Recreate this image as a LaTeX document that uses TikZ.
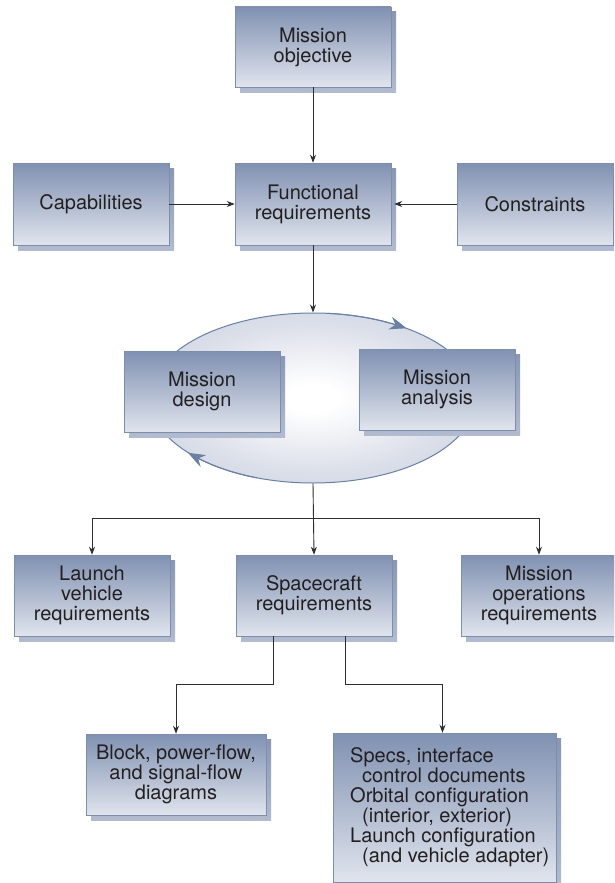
\documentclass[tikz,border=0pt]{standalone}
\usepackage{fontspec}
\setmainfont{TeX Gyre Heros}
\usetikzlibrary{arrows.meta,bending,shadows,shapes.geometric,calc}
\definecolor{boxtop}{RGB}{128,145,178}
\definecolor{boxbot}{RGB}{224,228,237}
\definecolor{boxline}{RGB}{125,141,172}
\definecolor{shadtop}{RGB}{136,151,180}
\definecolor{shadbot}{RGB}{178,187,207}
\definecolor{loopclr}{RGB}{104,128,166}
\definecolor{loopout}{RGB}{190,198,216}
\definecolor{loopmid}{RGB}{219,223,233}
\definecolor{txt}{RGB}{35,31,32}
\definecolor{conn}{RGB}{45,45,45}
\pgfdeclareradialshading{loopshade}{\pgfpoint{0bp}{0bp}}{color(0bp)=(white); color(4bp)=(white); color(22bp)=(loopmid); color(44bp)=(loopout); color(100bp)=(loopout)}
\begin{document}
\begin{tikzpicture}[x=1pt,y=-1pt,
  bluebox/.style={rectangle, minimum width=156pt, minimum height=82pt, inner sep=0pt,
    top color=boxtop, bottom color=boxbot, draw=boxline, line width=0.5pt,
    align=center, text=txt, font=\fontsize{20}{20}\selectfont,
    general shadow={shadow xshift=5pt, shadow yshift=-5pt, top color=shadtop, bottom color=shadbot}},
  arr/.style={draw=conn, line width=0.9pt, -{Stealth[length=8pt,width=6pt]}},
  looparr/.style={draw=loopclr, line width=1pt, -{Stealth[length=17pt,width=13pt,bend]}}
]
\useasboundingbox (0,0) rectangle (614,883);
\clip (0,0) rectangle (614,883);
\fill[white] (0,0) rectangle (614,883);

% top row
\node[bluebox, minimum height=80pt] (obj) at (313,47) {Mission\\objective};
\node[bluebox] (cap) at (91,204) {Capabilities};
\node[bluebox] (func) at (313,204) {Functional\\requirements};
\node[bluebox] (cons) at (535,204) {Constraints};

% loop
\node[ellipse, minimum width=326pt, minimum height=170pt, inner sep=0pt,
  draw=loopclr, line width=1pt, shading=loopshade] (loop) at (313,398) {};
\draw[looparr] ($(loop.center)+(-85:163 and 85)$) arc[start angle=-85, end angle=-55, x radius=163, y radius=85];
\draw[looparr] ($(loop.center)+(110:163 and 85)$) arc[start angle=110, end angle=140, x radius=163, y radius=85];

\node[bluebox, minimum height=81pt] (design) at (202,391.5) {Mission\\design};
\node[bluebox, minimum height=81pt] (analysis) at (437,389.5) {Mission\\analysis};

% requirement row
\node[bluebox, minimum height=81pt] (launch) at (92,595.5) {Launch\\vehicle\\requirements};
\node[bluebox, minimum height=81pt] (space) at (314,595.5) {Spacecraft\\requirements};
\node[bluebox, minimum height=81pt] (ops) at (539,595.5) {Mission\\operations\\requirements};

% bottom row
\node[bluebox, minimum width=180pt, minimum height=81pt] (block) at (176,774.5) {Block, power-flow,\\and signal-flow\\diagrams};
\node[bluebox, minimum width=223pt, minimum height=149pt] (specs) at (444.5,807.5) {};
\node[anchor=west, align=left, inner sep=0pt, text=txt, font=\fontsize{20}{20}\selectfont] (specstext) at (350,807)
  {Specs, interface\\\hspace*{12pt}control documents\\Orbital configuration\\\hspace*{12pt}(interior, exterior)\\Launch configuration\\\hspace*{12pt}(and vehicle adapter)};

% connectors
\draw[arr] (obj.south) -- (func.north);
\draw[arr] (cap.east) -- (func.west);
\draw[arr] (cons.west) -- ([xshift=3pt]func.east);
\draw[arr] (func.south) -- (loop.north);
\coordinate (branch) at (313,518);
\draw[arr] (loop.south) -- (space.north);
\draw[arr] (branch) -| (launch.north);
\draw[arr] (branch) -| (ops.north);
\draw[arr] ([xshift=-41pt]space.south) -- ++(0,48) -| (block.north);
\draw[arr] ([xshift=31pt]space.south) -- ++(0,48) -| ([xshift=-2pt]specs.north);
\end{tikzpicture}
\end{document}
